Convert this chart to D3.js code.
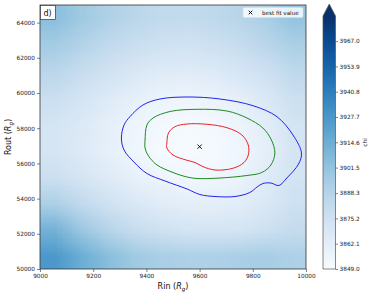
<!DOCTYPE html>
<html>
<head>
<meta charset="utf-8">
<script src="https://cdn.jsdelivr.net/npm/d3@7"></script>
<style>
  body { margin: 0; background: #fff; }
  svg { display: block; font-family: "DejaVu Sans", sans-serif; }
</style>
</head>
<body>
<div id="chart"></div>
<script>
// chi surface, cell centres (Rin step 100, Rout step 1500), top row first
const rinCenters = [9050, 9150, 9250, 9350, 9450, 9550, 9650, 9750, 9850, 9950]
const routCenters = [64250, 62750, 61250, 59750, 58250, 56750, 55250, 53750, 52250, 50750]
const chiGrid = [
  [3904, 3897, 3891, 3886, 3883, 3882, 3884, 3887, 3893, 3901],
  [3895, 3889, 3883, 3878, 3875, 3874, 3876, 3880, 3886, 3892],
  [3886, 3880, 3874, 3869, 3865, 3864, 3866, 3870, 3876, 3884],
  [3878, 3872, 3866, 3860, 3856, 3855, 3857, 3861, 3868, 3877],
  [3872, 3867, 3861, 3855, 3852, 3850, 3852, 3856, 3863, 3873],
  [3871, 3866, 3860, 3854, 3850, 3849, 3850, 3854, 3861, 3871],
  [3877, 3871, 3865, 3859, 3855, 3853, 3854, 3857, 3864, 3873],
  [3892, 3883, 3875, 3868, 3864, 3861, 3861, 3863, 3868, 3876],
  [3912, 3899, 3888, 3880, 3875, 3872, 3871, 3872, 3876, 3881],
  [3927, 3915, 3905, 3897, 3893, 3891, 3891, 3893, 3894, 3891]
]

// confidence contours (Rin, Rout)
const contourRed = [
  [9477, 57159], [9483, 57727], [9507, 58085], [9553, 58239], [9628, 58222],
  [9703, 58028], [9759, 57614], [9783, 57045], [9783, 56477], [9767, 56051],
  [9725, 55721], [9658, 55625], [9613, 55813], [9583, 56051], [9549, 56193],
  [9500, 56477], [9477, 56875]
]
const contourGreen = [
  [9395, 57329], [9402, 58182], [9425, 58580], [9489, 58949], [9590, 59074],
  [9703, 58977], [9778, 58580], [9838, 58011], [9870, 57329], [9883, 56591],
  [9868, 55909], [9834, 55483], [9778, 55312], [9677, 55170], [9590, 55142],
  [9545, 55256], [9500, 55483], [9440, 55909], [9408, 56420], [9395, 56875]
]
const contourBlue = [
  [9306, 57443], [9316, 58182], [9338, 58653], [9387, 59318], [9451, 59659],
  [9553, 59773], [9677, 59659], [9801, 59278], [9891, 58653], [9951, 57614],
  [9983, 56591], [9972, 55966], [9928, 55170], [9898, 54744], [9868, 54886],
  [9838, 54858], [9816, 54659], [9789, 54347], [9733, 54119], [9658, 54119],
  [9601, 54233], [9553, 54545], [9470, 55000], [9402, 55426], [9353, 56080],
  [9316, 56761]
]
const bestFit = [9600, 56950]

const xTicks = [9000, 9200, 9400, 9600, 9800, 10000]
const yTicks = [50000, 52000, 54000, 56000, 58000, 60000, 62000, 64000]
const cbarTicks = [3849.0, 3862.1, 3875.2, 3888.3, 3901.5, 3914.6, 3927.7, 3940.8, 3953.9, 3967.0]
const chiMin = 3849, chiMax = 3980

const W = 374, H = 296
const plot = { left: 40, right: 306, top: 5, bottom: 269 }

const svg = d3.select('#chart').append('svg')
  .attr('width', W).attr('height', H)

const x = d3.scaleLinear().domain([9000, 10000]).range([plot.left, plot.right])
const y = d3.scaleLinear().domain([50000, 65000]).range([plot.bottom, plot.top])
const color = d3.scaleSequential(d3.interpolateBlues).domain([chiMin, chiMax])

// heat map: paint the grid into a tiny canvas and let the browser smooth it
const nx = rinCenters.length, ny = routCenters.length
const canvas = document.createElement('canvas')
canvas.width = nx
canvas.height = ny
const ctx = canvas.getContext('2d')
const img = ctx.createImageData(nx, ny)
chiGrid.forEach((row, j) => {
  row.forEach((v, i) => {
    const c = d3.rgb(color(v))
    const k = (j * nx + i) * 4
    img.data[k] = c.r
    img.data[k + 1] = c.g
    img.data[k + 2] = c.b
    img.data[k + 3] = 255
  })
})
ctx.putImageData(img, 0, 0)

const dx = (rinCenters[1] - rinCenters[0]) / 2
const dy = (routCenters[0] - routCenters[1]) / 2
svg.append('image')
  .attr('href', canvas.toDataURL())
  .attr('x', x(rinCenters[0] - dx))
  .attr('y', y(routCenters[0] + dy))
  .attr('width', x(rinCenters[nx - 1] + dx) - x(rinCenters[0] - dx))
  .attr('height', y(routCenters[ny - 1] - dy) - y(routCenters[0] + dy))
  .attr('preserveAspectRatio', 'none')

// contours
const line = d3.line()
  .x(d => x(d[0]))
  .y(d => y(d[1]))
  .curve(d3.curveCatmullRomClosed)

const contours = [
  { pts: contourBlue, color: '#2222ee' },
  { pts: contourGreen, color: '#1f8a1f' },
  { pts: contourRed, color: '#ee2222' }
]
svg.append('g').selectAll('path')
  .data(contours)
  .enter().append('path')
  .attr('d', d => line(d.pts))
  .attr('fill', 'none')
  .attr('stroke', d => d.color)
  .attr('stroke-width', 1)

// best fit marker
svg.append('path')
  .attr('d', d3.symbol().type(d3.symbolX).size(14)())
  .attr('transform', `translate(${x(bestFit[0])},${y(bestFit[1])})`)
  .attr('stroke', '#111')
  .attr('stroke-width', 1)
  .attr('fill', 'none')

// axes
const xAxis = svg.append('g')
  .attr('transform', `translate(0,${plot.bottom})`)
  .call(d3.axisBottom(x).tickValues(xTicks).tickSize(3).tickPadding(2).tickFormat(d3.format('d')))
const yAxis = svg.append('g')
  .attr('transform', `translate(${plot.left},0)`)
  .call(d3.axisLeft(y).tickValues(yTicks).tickSize(3).tickPadding(2).tickFormat(d3.format('d')))

;[xAxis, yAxis].forEach(a => {
  a.select('.domain').remove()
  a.selectAll('text').attr('font-size', 5.8).attr('fill', '#222').attr('font-family', 'DejaVu Sans')
  a.selectAll('line').attr('stroke', '#333').attr('stroke-width', 0.6)
})

svg.append('rect')
  .attr('x', plot.left).attr('y', plot.top)
  .attr('width', plot.right - plot.left).attr('height', plot.bottom - plot.top)
  .attr('fill', 'none').attr('stroke', '#333').attr('stroke-width', 0.8)

// axis labels
const xl = svg.append('text')
  .attr('x', (plot.left + plot.right) / 2)
  .attr('y', 289)
  .attr('text-anchor', 'middle')
  .attr('font-size', 8)
  .attr('fill', '#111')
xl.append('tspan').text('Rin (')
xl.append('tspan').attr('font-style', 'italic').text('R')
xl.append('tspan').attr('font-style', 'italic').attr('font-size', 5.6).attr('dy', 1.6).text('g')
xl.append('tspan').attr('dy', -1.6).text(')')

const yl = svg.append('text')
  .attr('transform', `translate(11,${(plot.top + plot.bottom) / 2}) rotate(-90)`)
  .attr('text-anchor', 'middle')
  .attr('font-size', 8)
  .attr('fill', '#111')
yl.append('tspan').text('Rout (')
yl.append('tspan').attr('font-style', 'italic').text('R')
yl.append('tspan').attr('font-style', 'italic').attr('font-size', 5.6).attr('dy', 1.6).text('g')
yl.append('tspan').attr('dy', -1.6).text(')')

// panel label
svg.append('rect')
  .attr('x', plot.left + 0.5).attr('y', plot.top + 0.5)
  .attr('width', 15).attr('height', 14)
  .attr('fill', '#fff').attr('stroke', '#333').attr('stroke-width', 0.7)
svg.append('text')
  .attr('x', plot.left + 3.5).attr('y', plot.top + 11)
  .attr('font-size', 8).attr('fill', '#111')
  .text('d)')

// legend
const lg = svg.append('g').attr('transform', 'translate(243,7.5)')
lg.append('rect')
  .attr('width', 60).attr('height', 10).attr('rx', 1.5)
  .attr('fill', '#fff').attr('fill-opacity', 0.8)
  .attr('stroke', '#ddd').attr('stroke-width', 0.6)
lg.append('path')
  .attr('d', d3.symbol().type(d3.symbolX).size(10)())
  .attr('transform', 'translate(7.5,5)')
  .attr('stroke', '#111').attr('stroke-width', 1).attr('fill', 'none')
lg.append('text')
  .attr('x', 19).attr('y', 7.2)
  .attr('font-size', 5.6).attr('fill', '#111')
  .text('best fit value')

// colour bar
const cb = { x0: 323, x1: 335.5, top: 16, bottom: 269, tip: 4 }
const cy = d3.scaleLinear().domain([chiMin, chiMax]).range([cb.bottom, cb.top])

const defs = svg.append('defs')
const grad = defs.append('linearGradient')
  .attr('id', 'cbgrad')
  .attr('x1', 0).attr('y1', 1).attr('x2', 0).attr('y2', 0)
d3.range(0, 1.0001, 0.05).forEach(t => {
  grad.append('stop')
    .attr('offset', t)
    .attr('stop-color', d3.interpolateBlues(t))
})

svg.append('rect')
  .attr('x', cb.x0).attr('y', cb.top)
  .attr('width', cb.x1 - cb.x0).attr('height', cb.bottom - cb.top)
  .attr('fill', 'url(#cbgrad)')
svg.append('path')
  .attr('d', `M${cb.x0},${cb.top}L${(cb.x0 + cb.x1) / 2},${cb.tip}L${cb.x1},${cb.top}Z`)
  .attr('fill', d3.interpolateBlues(1))
svg.append('path')
  .attr('d', `M${cb.x0},${cb.bottom}L${cb.x0},${cb.top}L${(cb.x0 + cb.x1) / 2},${cb.tip}L${cb.x1},${cb.top}L${cb.x1},${cb.bottom}Z`)
  .attr('fill', 'none').attr('stroke', '#555').attr('stroke-width', 0.7)

const cAxis = svg.append('g')
  .attr('transform', `translate(${cb.x1},0)`)
  .call(d3.axisRight(cy).tickValues(cbarTicks).tickSize(2.5).tickPadding(1.5).tickFormat(d3.format('.1f')))
cAxis.select('.domain').remove()
cAxis.selectAll('text').attr('font-size', 5.8).attr('fill', '#222').attr('font-family', 'DejaVu Sans')
cAxis.selectAll('line').attr('stroke', '#333').attr('stroke-width', 0.6)

svg.append('text')
  .attr('transform', `translate(367,${(cb.top + cb.bottom) / 2}) rotate(-90)`)
  .attr('text-anchor', 'middle')
  .attr('font-size', 5.8).attr('fill', '#222')
  .text('chi')
</script>
</body>
</html>
